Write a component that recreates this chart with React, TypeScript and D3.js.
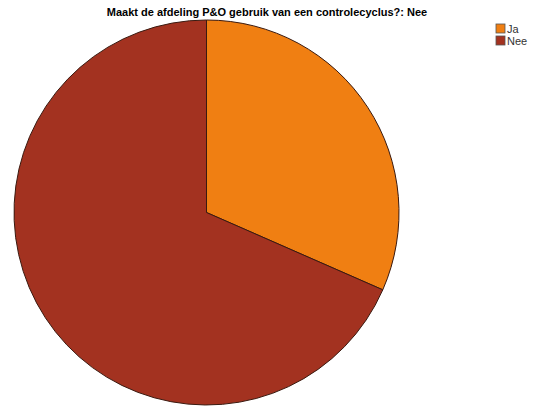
import React from "react";
import * as d3 from "d3";

const categories = ["Ja", "Nee"];
const values = [6, 13];
const colors = ["#F07F12", "#A33220"];
const title = "Maakt de afdeling P&O gebruik van een controlecyclus?: Nee";

export default function App() {
  const W = 535, H = 408;
  const cx = 206.5, cy = 212.5, r = 192.5;
  const pie = d3.pie<number>().sort(null).value((d) => d)(values);
  const arc = d3.arc<d3.PieArcDatum<number>>().innerRadius(0).outerRadius(r);
  return (
    <svg width={W} height={H} style={{ position: "absolute", left: 0, top: 0 }}>
      <rect width={W} height={H} fill="#fff" />
      <text x={267} y={16} textAnchor="middle" fontFamily="Liberation Sans, Arial, sans-serif" fontWeight="bold" fontSize={11} fill="#000">{title}</text>
      <g transform={`translate(${cx},${cy})`}>
        {pie.map((p, i) => (
          <path key={i} d={arc(p) || ""} fill={colors[i]} stroke="#3a1a10" strokeWidth={1} />
        ))}
      </g>
      {categories.map((c, i) => (
        <g key={c} transform={`translate(496,${24 + i * 12})`}>
          <rect x={0} y={0} width={9} height={9} fill={colors[i]} stroke="#555" strokeWidth={0.8} />
          <text x={11} y={8.5} fontFamily="Liberation Sans, Arial, sans-serif" fontSize={11} fill="#333">{c}</text>
        </g>
      ))}
    </svg>
  );
}
